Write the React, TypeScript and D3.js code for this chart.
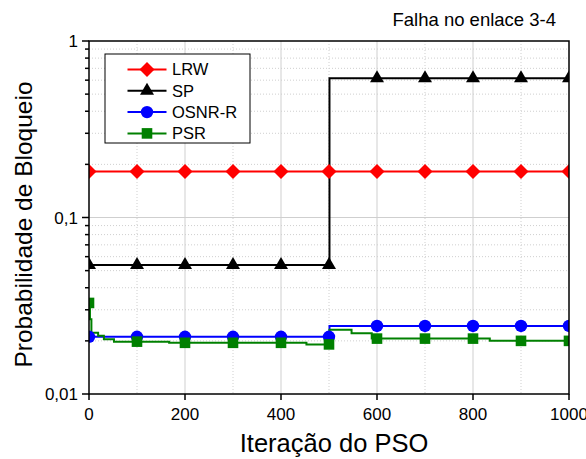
import React from 'react';
import * as d3 from 'd3';

const W = 586;
const H = 459;
const plot = { left: 89, right: 569, top: 41, bottom: 394 };

const xDomain: [number, number] = [0, 1000];
const yDomain: [number, number] = [0.01, 1];
const xTickValues = [0, 200, 400, 600, 800, 1000];
const xTickLabels = ['0', '200', '400', '600', '800', '1000'];
const xMinorGrid = [100, 300, 500, 700, 900];
const yMajorTicks = [0.01, 0.1, 1];
const yTickLabels = ['0,01', '0,1', '1'];
const yMinorTicks = [0.02, 0.03, 0.04, 0.05, 0.06, 0.07, 0.08, 0.09, 0.2, 0.3, 0.4, 0.5, 0.6, 0.7, 0.8, 0.9];
const markerIterations = [0, 100, 200, 300, 400, 500, 600, 700, 800, 900, 1000];

const seriesNames = ['LRW', 'SP', 'OSNR-R', 'PSR'];
const seriesColors = ['#ff0000', '#000000', '#0000ff', '#008000'];
const seriesShapes = ['diamond', 'triangle', 'circle', 'square'];

// step-after breakpoints: [iteration, blocking probability]
const lrwSteps: [number, number][] = [[0, 0.182], [1000, 0.182]];
const spSteps: [number, number][] = [[0, 0.0538], [501, 0.615], [1000, 0.615]];
const osnrSteps: [number, number][] = [[0, 0.0211], [501, 0.0243], [1000, 0.0243]];
const psrSteps: [number, number][] = [
  [0, 0.0328], [2, 0.0265], [5, 0.0222], [19, 0.0214], [31, 0.0204], [52, 0.0198],
  [167, 0.0195], [453, 0.0191], [501, 0.0231], [547, 0.0221], [589, 0.0206],
  [835, 0.02], [1000, 0.02],
];
const allSteps = [lrwSteps, spSteps, osnrSteps, psrSteps];

const FONT = '"Liberation Sans", Arial, Helvetica, sans-serif';

function valueAt(steps: [number, number][], it: number) {
  let v = steps[0][1];
  for (const [s, val] of steps) if (s <= it) v = val;
  return v;
}

function markerPath(shape: string) {
  switch (shape) {
    case 'diamond':
      return 'M0,-7.5L7.5,0L0,7.5L-7.5,0Z';
    case 'triangle':
      return 'M0,-8L7,4L-7,4Z';
    case 'circle':
      return 'M6.2,0A6.2,6.2,0,1,1,-6.2,0A6.2,6.2,0,1,1,6.2,0Z';
    default:
      return 'M-5.3,-5.3L5.3,-5.3L5.3,5.3L-5.3,5.3Z';
  }
}

export default function App() {
  const x = d3.scaleLinear().domain(xDomain).range([plot.left, plot.right]);
  const y = d3.scaleLog().domain(yDomain).range([plot.bottom, plot.top]);
  const line = d3
    .line<[number, number]>()
    .x((d) => x(d[0]))
    .y((d) => y(d[1]))
    .curve(d3.curveStepAfter);

  const gridSolid = '#cfcfcf';
  const gridDot = '#cfcfcf';

  const legend = { x: 105, y: 54, w: 145, h: 89, row: 21.3 };

  return (
    <svg
      width={W}
      height={H}
      style={{ position: 'absolute', left: 0, top: 0, background: '#fff' }}
      fontFamily={FONT}
    >
      <defs>
        <clipPath id="plotclip">
          <rect x={plot.left} y={plot.top} width={plot.right - plot.left} height={plot.bottom - plot.top} />
        </clipPath>
      </defs>
      <rect x={0} y={0} width={W} height={H} fill="#fff" />

      {/* grid */}
      {xMinorGrid.map((v) => (
        <line key={'xm' + v} x1={x(v)} x2={x(v)} y1={plot.top} y2={plot.bottom} stroke={gridDot} strokeWidth={1} strokeDasharray="1,2" />
      ))}
      {xTickValues.slice(1, -1).map((v) => (
        <line key={'xg' + v} x1={x(v)} x2={x(v)} y1={plot.top} y2={plot.bottom} stroke={gridSolid} strokeWidth={1} />
      ))}
      {yMinorTicks.map((v) => (
        <line key={'ym' + v} x1={plot.left} x2={plot.right} y1={y(v)} y2={y(v)} stroke={gridDot} strokeWidth={1} strokeDasharray="1,2" />
      ))}
      {yMajorTicks.slice(1, -1).map((v) => (
        <line key={'yg' + v} x1={plot.left} x2={plot.right} y1={y(v)} y2={y(v)} stroke={gridSolid} strokeWidth={1} />
      ))}

      {/* series */}
      <g clipPath="url(#plotclip)">
        {allSteps.map((steps, i) => (
          <path key={'l' + i} d={line(steps) || ''} fill="none" stroke={seriesColors[i]} strokeWidth={2} />
        ))}
        {allSteps.map((steps, i) => (
          <g key={'m' + i}>
            {markerIterations.map((it) => (
              <path
                key={it}
                d={markerPath(seriesShapes[i])}
                transform={`translate(${x(it)},${y(valueAt(steps, it))})`}
                fill={seriesColors[i]}
              />
            ))}
          </g>
        ))}
      </g>

      {/* frame */}
      <rect
        x={plot.left}
        y={plot.top}
        width={plot.right - plot.left}
        height={plot.bottom - plot.top}
        fill="none"
        stroke="#000"
        strokeWidth={1.5}
      />

      {/* y ticks */}
      {yMajorTicks.map((v, i) => (
        <g key={'yt' + v}>
          <line x1={plot.left - 7} x2={plot.left} y1={y(v)} y2={y(v)} stroke="#000" strokeWidth={1.5} />
          <text x={plot.left - 11} y={y(v)} dy="0.36em" textAnchor="end" fontSize={17} fill="#000">
            {yTickLabels[i]}
          </text>
        </g>
      ))}
      {yMinorTicks.map((v) => (
        <line key={'ymt' + v} x1={plot.left - 4} x2={plot.left} y1={y(v)} y2={y(v)} stroke="#000" strokeWidth={1.5} />
      ))}

      {/* x ticks */}
      {xTickValues.map((v, i) => (
        <g key={'xt' + v}>
          <line x1={x(v)} x2={x(v)} y1={plot.bottom} y2={plot.bottom + 6} stroke="#000" strokeWidth={1.5} />
          <text x={x(v)} y={plot.bottom + 26} textAnchor="middle" fontSize={17} fill="#000">
            {xTickLabels[i]}
          </text>
        </g>
      ))}

      {/* axis titles */}
      <text x={(plot.left + plot.right) / 2 + 5} y={452} textAnchor="middle" fontSize={25.5} fill="#000">
        Iteração do PSO
      </text>
      <text
        transform={`translate(32,${(plot.top + plot.bottom) / 2 + 7}) rotate(-90)`}
        textAnchor="middle"
        fontSize={24.5}
        fill="#000"
      >
        Probabilidade de Bloqueio
      </text>
      <text x={556} y={26} textAnchor="end" fontSize={18.5} fill="#000">
        Falha no enlace 3-4
      </text>

      {/* legend */}
      <rect x={legend.x} y={legend.y} width={legend.w} height={legend.h} fill="#fff" stroke="#000" strokeWidth={1} />
      {seriesNames.map((name, i) => {
        const cy = legend.y + 15.5 + i * legend.row;
        return (
          <g key={'lg' + name}>
            <line x1={127.5} x2={166.5} y1={cy} y2={cy} stroke={seriesColors[i]} strokeWidth={2} />
            <path d={markerPath(seriesShapes[i])} transform={`translate(147,${cy})`} fill={seriesColors[i]} />
            <text x={172} y={cy} dy="0.36em" fontSize={16.5} fill="#000">
              {name}
            </text>
          </g>
        );
      })}
    </svg>
  );
}
